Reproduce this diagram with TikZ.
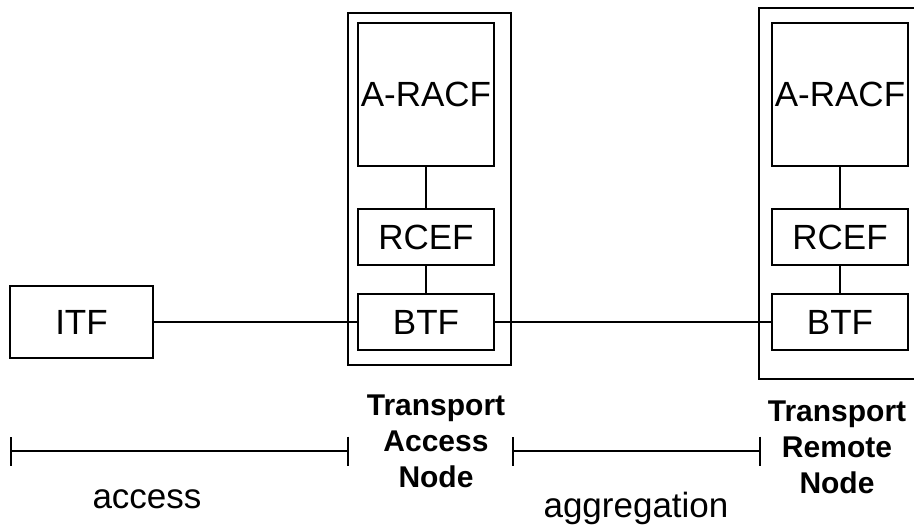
\documentclass[tikz,border=0pt]{standalone}
\usepackage{fontspec}
\setmainfont{Liberation Sans}
\usetikzlibrary{arrows.meta,positioning}

\tikzset{
  fbox/.style={draw, line width=2.2pt, inner sep=0pt, outer sep=0pt,
    minimum width=136pt, minimum height=56pt, font=\fontsize{35}{40}\selectfont},
  nodebox/.style={draw, line width=2.2pt},
  link/.style={line width=1.8pt},
  span/.style={line width=1.8pt, {Bar[width=29pt]}-{Bar[width=29pt]}},
  nodelabel/.style={align=center, inner sep=0pt, font=\fontsize{30}{36}\selectfont\bfseries},
  spanlabel/.style={inner sep=0pt, font=\fontsize{35}{40}\selectfont}
}

\begin{document}
\begin{tikzpicture}[x=1pt,y=-1pt]
  \fill[white] (0,0) rectangle (914,527);
  \useasboundingbox (0,0) rectangle (914,527);

  % Transport Access Node
  \draw[nodebox] (348,13) rectangle (511,365);
  \node[fbox, minimum height=143pt] (racfA) at (426,94.5) {A-RACF};
  \node[fbox, below=43pt of racfA] (rcefA) {RCEF};
  \node[fbox, below=29pt of rcefA] (btfA) {BTF};

  % Transport Remote Node
  \draw[nodebox] (759,8) rectangle (930,379);
  \node[fbox, minimum height=143pt] (racfB) at (840,94.5) {A-RACF};
  \node[fbox, below=43pt of racfB] (rcefB) {RCEF};
  \node[fbox, below=29pt of rcefB] (btfB) {BTF};

  % ITF
  \node[fbox, minimum width=143pt, minimum height=72pt] (itf) at (81.5,322) {ITF};

  % Links
  \draw[link] (racfA) -- (rcefA);
  \draw[link] (rcefA) -- (btfA);
  \draw[link] (racfB) -- (rcefB);
  \draw[link] (rcefB) -- (btfB);
  \draw[link] (itf) -- (btfA);
  \draw[link] (btfA) -- (btfB);

  % Spans
  \coordinate (accL) at (10,451);
  \coordinate (accR) at (349,451);
  \coordinate (aggL) at (512,451);
  \coordinate (aggR) at (761,451);
  \draw[span] (accL) -- (accR);
  \draw[span] (aggL) -- (aggR);

  % Labels
  \node[spanlabel, anchor=base] (access) at (147,508) {access};
  \node[spanlabel, anchor=base] (aggregation) at (636,517) {aggregation};
  \node[nodelabel] (tan) at (436,441) {Transport\\Access\\Node};
  \node[nodelabel] (trn) at (837,447) {Transport\\Remote\\Node};
\end{tikzpicture}
\end{document}
